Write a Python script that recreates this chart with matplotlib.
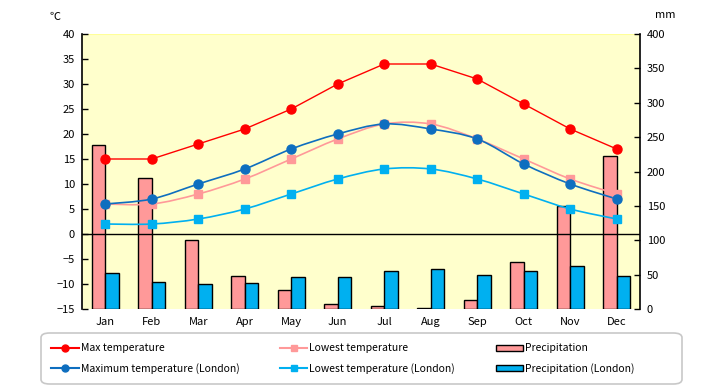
import matplotlib
matplotlib.use("Agg")
import matplotlib.pyplot as plt
import numpy as np
from matplotlib.path import Path
from matplotlib.patches import PathPatch, FancyBboxPatch
from matplotlib.lines import Line2D
from matplotlib.patches import Patch

plt.rcParams['font.family'] = ['Noto Sans CJK JP', 'DejaVu Sans']

months = ["Jan", "Feb", "Mar", "Apr", "May", "Jun", "Jul", "Aug", "Sep", "Oct", "Nov", "Dec"]
max_temp = [15, 15, 18, 21, 25, 30, 34, 34, 31, 26, 21, 17]
low_temp = [6, 6, 8, 11, 15, 19, 22, 22, 19, 15, 11, 8]
precip = [238, 190, 101, 48, 28, 8, 4, 1, 13, 69, 150, 222]
london_max = [6, 7, 10, 13, 17, 20, 22, 21, 19, 14, 10, 7]
london_low = [2, 2, 3, 5, 8, 11, 13, 13, 11, 8, 5, 3]
london_precip = [52, 39, 36, 38, 46, 46, 55, 58, 49, 56, 63, 48]

temp_ticks = list(range(-15, 41, 5))
precip_ticks = list(range(0, 401, 50))

C_RED = "#FF0000"
C_PINK = "#FF9999"
C_BLUE = "#0E6EBF"
C_CYAN = "#00B0F0"
BG = "#FFFFCC"

fig = plt.figure(figsize=(7.2, 3.85), dpi=100)
ax = fig.add_axes([82/720, 1-309/385, 558/720, 275/385])
ax2 = ax.twinx()
ax.set_zorder(ax2.get_zorder() + 1)
ax.patch.set_visible(False)
ax2.patch.set_visible(True)
ax2.patch.set_facecolor(BG)

x = np.arange(len(months))
bw = 0.286
ax2.bar(x - bw/2, precip, width=bw, color=C_PINK, edgecolor="black", linewidth=1)
ax2.bar(x + bw/2, london_precip, width=bw, color=C_CYAN, edgecolor="black", linewidth=1)
ax2.set_ylim(0, 400)
ax2.set_yticks(precip_ticks)

def smooth_path(xs, ys, t=1/6):
    xs = np.asarray(xs, float); ys = np.asarray(ys, float)
    n = len(xs)
    verts = [(xs[0], ys[0])]
    codes = [Path.MOVETO]
    for i in range(n - 1):
        p0 = (xs[max(i-1, 0)], ys[max(i-1, 0)])
        p1 = (xs[i], ys[i]); p2 = (xs[i+1], ys[i+1])
        p3 = (xs[min(i+2, n-1)], ys[min(i+2, n-1)])
        c1 = (p1[0] + (p2[0]-p0[0])*t, p1[1] + (p2[1]-p0[1])*t)
        c2 = (p2[0] - (p3[0]-p1[0])*t, p2[1] - (p3[1]-p1[1])*t)
        verts += [c1, c2, p2]
        codes += [Path.CURVE4]*3
    return Path(verts, codes)

ax.axhline(0, color="black", linewidth=1, zorder=1)

for ys, col, lw in [(low_temp, C_PINK, 1.2), (london_low, C_CYAN, 1.2), (london_max, C_BLUE, 1.2)]:
    ax.add_patch(PathPatch(smooth_path(x, ys), facecolor="none", edgecolor=col, linewidth=lw, zorder=2))

ax.plot(x, max_temp, color=C_RED, linewidth=1, marker="o", markersize=6.5, zorder=3)
ax.plot(x, low_temp, linestyle="none", color=C_PINK, marker="s", markersize=6, zorder=3)
ax.plot(x, london_low, linestyle="none", color=C_CYAN, marker="s", markersize=6, zorder=3)
ax.plot(x, london_max, linestyle="none", color=C_BLUE, marker="o", markersize=6.5, zorder=4)

ax.set_xlim(-0.5, len(months) - 0.5)
ax.set_ylim(-15, 40)
ax.set_yticks(temp_ticks)
ax.set_xticks(x)
ax.set_xticklabels(months)

for a in (ax, ax2):
    for s in ("top", "bottom"):
        a.spines[s].set_visible(False)
ax.spines["left"].set_linewidth(1.2)
ax2.spines["right"].set_linewidth(1.2)
ax.spines["right"].set_visible(False)
ax2.spines["left"].set_visible(False)
ax2.axhline(400, color="#FFFF99", linewidth=1.5, zorder=0)

ax.tick_params(axis="y", direction="in", length=4, width=1, labelsize=8, pad=5)
ax2.tick_params(axis="y", direction="in", length=4, width=1, labelsize=8, pad=5)
ax.tick_params(axis="x", length=0, labelsize=8, pad=6)

fig.text(55/720, 1-17/385, "℃", fontsize=8, ha="center", va="center")
fig.text(665/720, 1-15/385, "mm", fontsize=8, ha="center", va="center")

handles = [
    Line2D([], [], color=C_RED, marker="o", markersize=5),
    Line2D([], [], color=C_BLUE, marker="o", markersize=5),
    Line2D([], [], color=C_PINK, marker="s", markersize=5),
    Line2D([], [], color=C_CYAN, marker="s", markersize=5),
    Patch(facecolor=C_PINK, edgecolor="black"),
    Patch(facecolor=C_CYAN, edgecolor="black"),
]
labels = ["Max temperature", "Maximum temperature (London)", "Lowest temperature",
          "Lowest temperature (London)", "Precipitation", "Precipitation (London)"]
leg = fig.legend(handles, labels, ncol=3, loc="upper left",
                 bbox_to_anchor=(41/720, 1-333/385), borderaxespad=0,
                 fontsize=7.5, frameon=False,
                 handlelength=2.6, handletextpad=0.2, labelspacing=0.9,
                 columnspacing=3.9, borderpad=1.0, handleheight=0.5)

frame = FancyBboxPatch((41/720, 1-384/385), 641/720, 51/385,
                       boxstyle="round,pad=0,rounding_size=0.012",
                       transform=fig.transFigure, facecolor="white",
                       edgecolor="#C8C8C8", linewidth=1.2, zorder=0)
fig.add_artist(frame)
leg.set_zorder(5)

fig.savefig("out.png", dpi=100)
